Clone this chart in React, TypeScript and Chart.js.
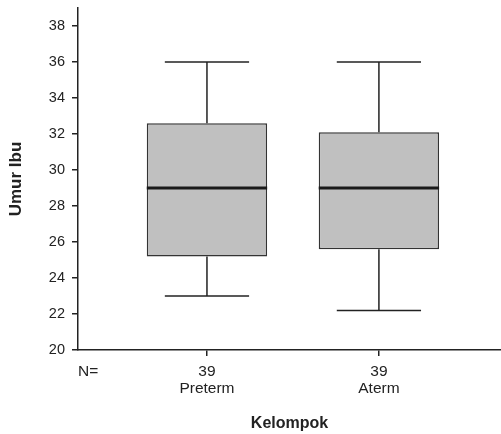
import { useEffect, useRef } from 'react';
import { Chart, registerables } from 'chart.js';

Chart.register(...registerables);

const categories = ['Preterm', 'Aterm'];
const counts = [39, 39];
const whiskerLow = [23, 22.2];
const q1 = [25.2, 25.6];
const median = [29, 29];
const q3 = [32.6, 32.1];
const whiskerHigh = [36, 36];
const yTicks = [20, 22, 24, 26, 28, 30, 32, 34, 36, 38];

const BOX_WIDTH = 0.7;
const CAP_WIDTH = 0.49;
const FONT = "'Liberation Sans', Arial, sans-serif";
const INK = '#222';
const X_TICK_LEN = 6;
const X_TICK_PAD = 8;
const X_FONT_SIZE = 15.5;
const X_LINE_H = 1.05;

export default function App() {
  const ref = useRef<HTMLCanvasElement>(null);

  useEffect(() => {
    if (!ref.current) return;
    const positions = categories.map((_, i) => i + 1);
    const seg = (x0: number, y0: number, x1: number, y1: number) => [
      { x: x0, y: y0 },
      { x: x1, y: y1 },
    ];
    const lineDs = (data: any[], width: number, color: string) => ({
      type: 'line',
      data,
      borderColor: color,
      borderWidth: width,
      pointRadius: 0,
      pointHoverRadius: 0,
      fill: false,
      showLine: true,
      borderCapStyle: 'butt',
      order: 0,
    });
    const datasets: any[] = [];
    positions.forEach((x, i) => {
      datasets.push(lineDs(seg(x - BOX_WIDTH / 2, median[i], x + BOX_WIDTH / 2, median[i]), 3, '#1a1a1a'));
      datasets.push(lineDs(seg(x, q3[i], x, whiskerHigh[i]), 1.5, INK));
      datasets.push(lineDs(seg(x - CAP_WIDTH / 2, whiskerHigh[i], x + CAP_WIDTH / 2, whiskerHigh[i]), 1.5, INK));
      datasets.push(lineDs(seg(x, q1[i], x, whiskerLow[i]), 1.5, INK));
      datasets.push(lineDs(seg(x - CAP_WIDTH / 2, whiskerLow[i], x + CAP_WIDTH / 2, whiskerLow[i]), 1.5, INK));
    });
    datasets.push({
      type: 'bar',
      data: positions.map((x, i) => ({ x, y: [q1[i], q3[i]] })),
      backgroundColor: '#c0c0c0',
      borderColor: '#333',
      borderWidth: 1.5,
      borderSkipped: false,
      barPercentage: BOX_WIDTH,
      categoryPercentage: 1,
      order: 1,
    });

    const nLabel = {
      id: 'nLabel',
      afterDraw(chart: any) {
        const xs = chart.scales.x;
        const ctx = chart.ctx;
        ctx.save();
        ctx.font = `${X_FONT_SIZE}px ${FONT}`;
        ctx.fillStyle = INK;
        ctx.textAlign = 'left';
        ctx.textBaseline = 'middle';
        ctx.fillText('N=', xs.left, xs.top + X_TICK_LEN + X_TICK_PAD + (X_FONT_SIZE * X_LINE_H) / 2);
        ctx.restore();
      },
    };

    const chart = new Chart(ref.current, {
      type: 'bar',
      data: { datasets },
      options: {
        responsive: true,
        maintainAspectRatio: false,
        animation: false,
        layout: { padding: { top: 8, left: 0, right: 0, bottom: 0 } },
        plugins: { legend: { display: false }, tooltip: { enabled: false } },
        scales: {
          x: {
            type: 'linear',
            min: 0.25,
            max: 2.71,
            offset: false,
            afterBuildTicks: (s: any) => {
              s.ticks = positions.map((v) => ({ value: v }));
            },
            afterFit: (s: any) => {
              s.height = 84;
              s.paddingLeft = 0;
              s.paddingRight = 0;
            },
            grid: {
              display: true,
              drawOnChartArea: false,
              drawTicks: true,
              tickLength: X_TICK_LEN,
              color: INK,
              lineWidth: 1.5,
              offset: false,
            },
            border: { display: true, color: INK, width: 1.5 },
            ticks: {
              color: INK,
              font: { family: FONT, size: X_FONT_SIZE, lineHeight: X_LINE_H },
              padding: X_TICK_PAD,
              maxRotation: 0,
              autoSkip: false,
              callback: (v: any) => {
                const i = positions.indexOf(Number(v));
                return i < 0 ? '' : [String(counts[i]), categories[i]];
              },
            },
            title: {
              display: true,
              text: 'Kelompok',
              color: INK,
              font: { family: FONT, size: 16, weight: 'bold' },
              padding: { top: 0, bottom: 1 },
            },
          },
          y: {
            type: 'linear',
            min: 20,
            max: 39,
            afterBuildTicks: (s: any) => {
              s.ticks = yTicks.map((v) => ({ value: v }));
            },
            afterFit: (s: any) => {
              s.width = 78;
              s.paddingTop = 0;
              s.paddingBottom = 0;
            },
            grid: {
              display: true,
              drawOnChartArea: false,
              drawTicks: true,
              tickLength: 6,
              color: INK,
              lineWidth: 1.5,
            },
            border: { display: true, color: INK, width: 1.5 },
            ticks: {
              color: INK,
              font: { family: FONT, size: 14.5, lineHeight: 1.1 },
              padding: 7,
              callback: (v: any) => String(v),
            },
            title: {
              display: true,
              text: 'Umur Ibu',
              color: INK,
              font: { family: FONT, size: 17, weight: 'bold' },
              padding: { top: 6, bottom: 0 },
            },
          },
        },
      } as any,
      plugins: [nLabel],
    } as any);

    return () => chart.destroy();
  }, []);

  return (
    <div style={{ position: 'fixed', left: 0, top: 0, width: 501, height: 434 }}>
      <canvas ref={ref} />
    </div>
  );
}
